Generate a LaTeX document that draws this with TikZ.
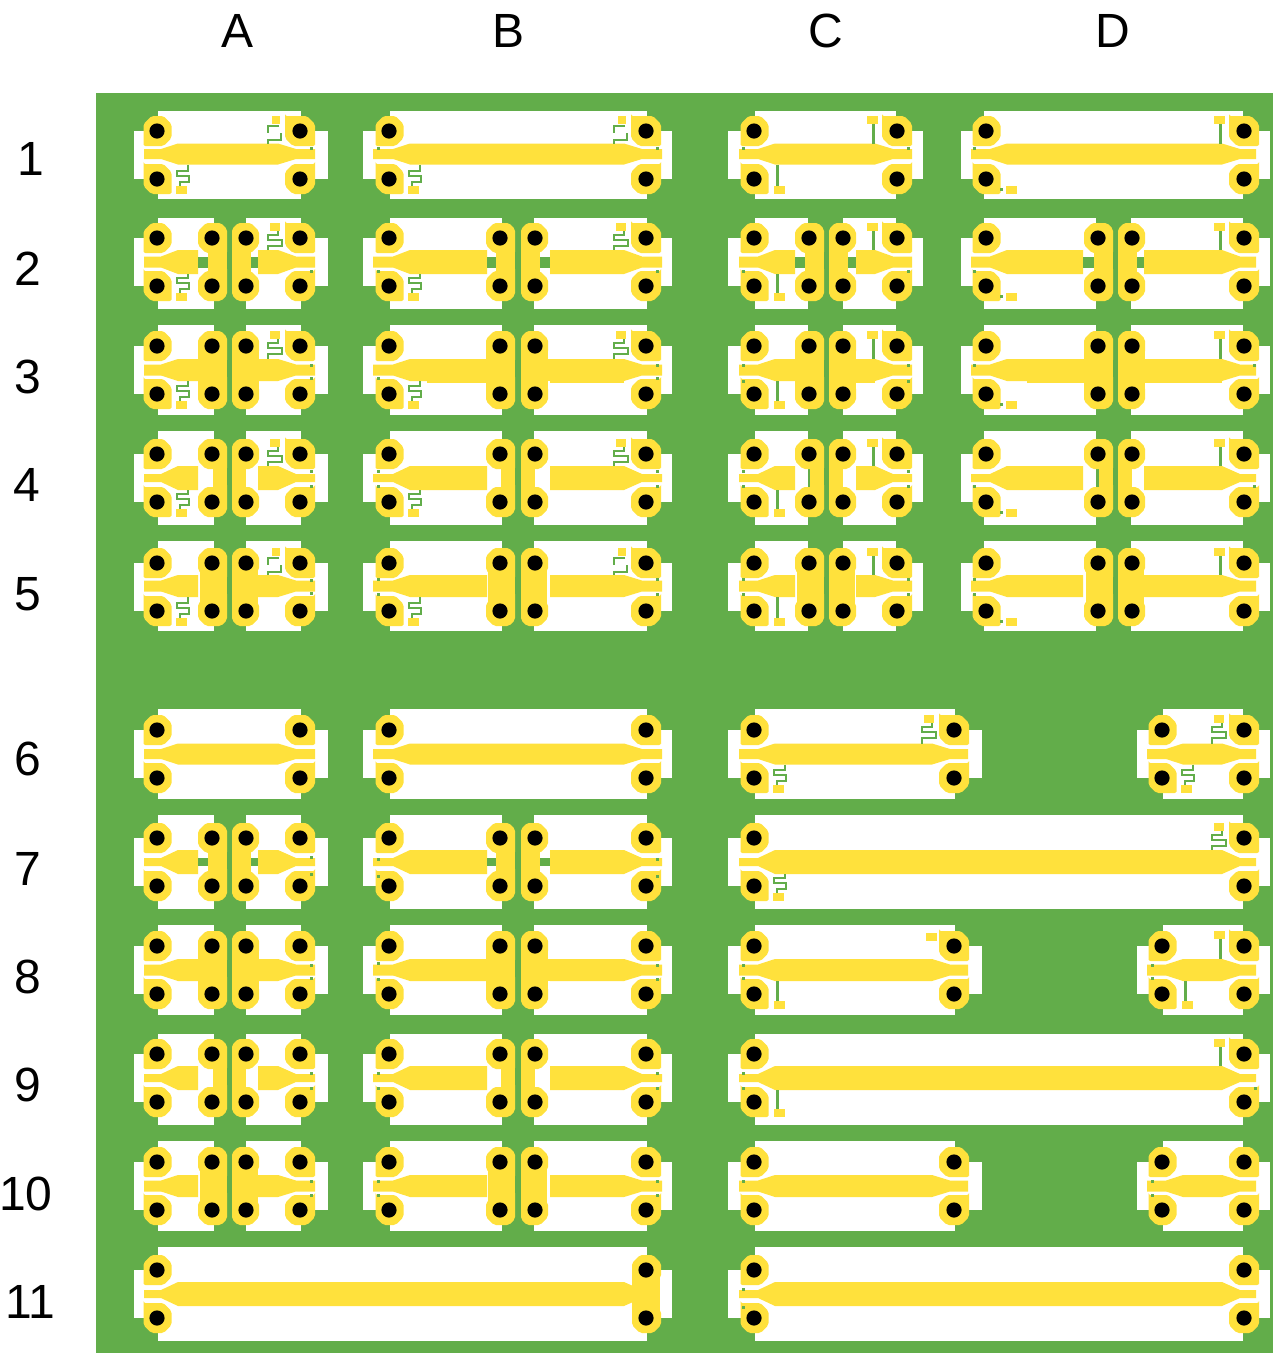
\documentclass[tikz,border=0pt]{standalone}
\usepackage{fontspec}
\setmainfont{Liberation Sans}
\definecolor{mygreen}{RGB}{98,173,74}
\definecolor{mygold}{RGB}{255,225,60}

% the data of one row: holes, trace centre, white edges, half widths, bars, corner
\newcommand{\setrow}[9]{\def\yT{#1}\def\yB{#2}\def\yc{#3}\def\wT{#4}\def\wB{#5}\def\hw{#6}\def\hn{#7}\def\wl{#8}\def\wr{#9}}
\newcommand{\loadrow}[1]{\def\brc{0}\ifcase#1\or
  \setrow{131}{179}{154}{111}{199}{10.5}{5}{0}{0}\or
  \setrow{238}{286}{262}{218}{309}{12}{5.5}{4}{5}\or
  \setrow{346}{394}{370}{325}{415}{11}{5.5}{14}{13}\or
  \setrow{454}{502}{478}{431}{525}{12}{4}{-1}{0}\or
  \setrow{563}{611}{586}{541}{631}{11}{5.5}{12}{12}\or
  \def\brc{8}\setrow{730}{778}{754}{709}{799}{10.5}{5}{0}{0}\or
  \def\brc{8}\setrow{838}{886}{862}{815}{909}{12}{4}{4}{5}\or
  \def\brc{8}\setrow{946}{994}{970}{925}{1015}{11}{5.5}{14}{13}\or
  \def\brc{8}\setrow{1054}{1102}{1078}{1034}{1125}{12}{4}{-1}{0}\or
  \def\brc{8}\setrow{1162}{1210}{1186}{1141}{1231}{11}{5.5}{12}{12}\or
  \def\brc{8}\setrow{1270}{1318}{1294}{1247}{1341}{12}{4}{0}{0}\fi}

% x, y, left and right reach, then the four cuts from the top left on
\newcommand{\pad}[8]{\fill[gold,rounded corners=2pt] (#1-#3+#5,#2-15) -- (#1+#4-#6,#2-15) -- (#1+#4,#2-15+#6) -- (#1+#4,#2+15-#7)
  -- (#1+#4-#7,#2+15) -- (#1-#3+#8,#2+15) -- (#1-#3,#2+15-#8) -- (#1-#3,#2-15+#5) -- cycle;}
\newcommand{\hole}[2]{\fill[black] (#1,#2) circle (7.6);}
\newcommand{\leftpads}[1]{%
  \pad{#1}{\yT}{13.5}{14.5}{8}{8}{8}{0}
  \pad{#1}{\yB}{13.5}{14.5}{0}{8}{\brc}{8}
  \hole{#1}{\yT}\hole{#1}{\yB}}
\newcommand{\rightpads}[1]{%
  \pad{#1}{\yT}{15}{15}{\brc}{8}{0}{8}
  \pad{#1}{\yB}{15}{15}{8}{0}{8}{8}
  \hole{#1}{\yT}\hole{#1}{\yB}}

% holes, ears, trace ends, white edges
\newcommand{\cellbody}[8]{%
  \fill[white] (#3,\yT) rectangle (#4,\yB);
  \fill[white] (#7,\wT) rectangle (#8,\wB);
  \fill[gold] (#5,\yc-\hn) -- (#1+4,\yc-\hn) -- (#1+21,\yc-\hw) -- (#2-22,\yc-\hw) -- (#2-4,\yc-\hn) -- (#6,\yc-\hn)
    -- (#6,\yc+\hn) -- (#2-4,\yc+\hn) -- (#2-22,\yc+\hw) -- (#1+21,\yc+\hw) -- (#1+4,\yc+\hn) -- (#5,\yc+\hn) -- cycle;}
\newcommand{\fullcell}[8]{\cellbody{#1}{#2}{#3}{#4}{#5}{#6}{#7}{#8}\leftpads{#1}\rightpads{#2}}

% the four stub drawings, by the hole they lean on
\newcommand{\meantop}[1]{%
  \fill[gold] (#1-30,\yT-15) rectangle (#1-20,\yT-7);
  \draw[stub] (#1-22,\yT-7) -- (#1-22,\yT-3) -- (#1-32,\yT-3) -- (#1-32,\yT+2) -- (#1-18,\yT+2) -- (#1-18,\yT+8) -- (#1-32,\yT+8) -- (#1-32,\yc-\hw);}
\newcommand{\meanbroken}[1]{%
  \fill[gold] (#1-28,\yT-15) rectangle (#1-20,\yT-7);
  \draw[stub] (#1-21,\yT-5) -- (#1-32,\yT-5) -- (#1-32,\yT+2);
  \draw[stub] (#1-19,\yT+2) -- (#1-19,\yT+9) -- (#1-32,\yT+9) -- (#1-32,\yc-\hw);}
\newcommand{\meanlow}[1]{%
  \fill[gold] (#1+19,\yB+7) rectangle (#1+30,\yB+15);
  \draw[stub] (#1+31,\yc+\hw) -- (#1+31,\yB-8) -- (#1+20,\yB-8) -- (#1+20,\yB-3) -- (#1+32,\yB-3) -- (#1+32,\yB+3) -- (#1+23,\yB+3) -- (#1+23,\yB+7);}
\newcommand{\stubtop}[1]{%
  \fill[gold] (#1-30,\yT-15) rectangle (#1-19,\yT-7);
  \draw[stub,line width=3pt] (#1-23.5,\yT-7) -- (#1-23.5,\yc-\hw);}
\newcommand{\stublow}[1]{%
  \fill[gold] (#1+20,\yB+7) rectangle (#1+31,\yB+15);
  \draw[stub,line width=3pt] (#1+23.5,\yc+\hw) -- (#1+23.5,\yB+7);}

\begin{document}
\begin{tikzpicture}[x=1pt,y=-1pt,
    gold/.style={fill=mygold},
    stub/.style={draw=mygreen,line width=2.4pt},
    dot/.style={fill=mygreen},
    heading/.style={font=\fontsize{48}{48}\selectfont,inner sep=0pt}
  ]
  \useasboundingbox (0,0) rectangle (1273,1353);
  \fill[mygreen] (96,93) rectangle (1273,1353);

  % the column and row names
  \foreach \i/\x in {A/238,B/509,C/826,D/1113}
    \node[heading] (col\i) at (\x,31) {\i};
  \foreach \i/\x/\y in {1/31/159,2/28/269,3/28/377,4/27/485,5/28/594,6/28/759,7/28/869,8/28/977,9/28/1085,10/26/1194,11/30/1302}
    \node[heading] (row\i) at (\x,\y) {\i};

  % the whole cells
  \loadrow{1}
  \fullcell{157}{300}{134}{328}{144}{315}{158}{301}
  \fullcell{389}{646}{363}{672}{373}{662}{390}{647}
  \fullcell{754}{897}{728}{923}{739}{912}{755}{896}
  \fullcell{986}{1244}{961}{1270}{971}{1256}{984}{1243}
  \loadrow{6}
  \fullcell{157}{300}{134}{328}{144}{315}{158}{301}
  \fullcell{389}{646}{363}{672}{373}{662}{390}{647}
  \def\brc{0}
  \fullcell{754}{954}{728}{982}{739}{968}{755}{955}
  \fullcell{1162}{1244}{1137}{1270}{1147}{1256}{1163}{1243}
  \loadrow{7}\def\brc{0}
  \fullcell{754}{1244}{728}{1270}{739}{1256}{755}{1243}
  \loadrow{8}\def\brc{0}
  \fullcell{754}{954}{728}{982}{739}{968}{755}{955}
  \fullcell{1162}{1244}{1137}{1270}{1147}{1256}{1163}{1243}
  \loadrow{9}\def\brc{0}
  \fullcell{754}{1244}{728}{1270}{739}{1256}{755}{1243}
  \loadrow{10}
  \fullcell{754}{954}{728}{982}{739}{968}{755}{955}
  \fullcell{1162}{1244}{1137}{1270}{1147}{1256}{1163}{1243}
  \loadrow{11}
  \cellbody{157}{646}{134}{672}{144}{646}{158}{647}
  \leftpads{157}
  \fill[gold] (632,\yT) rectangle (660,\yB);
  \pad{646}{\yT}{14}{15}{8}{8}{8}{8}
  \pad{646}{\yB}{14}{15}{8}{8}{8}{8}
  \hole{646}{\yT}\hole{646}{\yB}
  \fullcell{754}{1244}{728}{1270}{739}{1256}{755}{1243}

  % the cut cells
  \foreach \xa/\xb/\xc/\xd/\eL/\eR/\mS/\mL/\mR/\mE/\tL/\tR/\sL/\sR/\rows in {
      157/212/246/300/134/328/158/214/246/301/144/315/198/258/{2,3,4,5,7,8,9,10},
      389/500/535/646/363/672/390/502/534/647/373/662/487/550/{2,3,4,5,7,8,9,10},
      754/809/843/897/728/923/755/808/843/896/739/912/795/856/{2,3,4,5},
      986/1098/1132/1244/961/1270/984/1096/1131/1243/971/1256/1083/1144/{2,3,4,5}}{
    \foreach \r in \rows {
      \loadrow{\r}
      \fill[white] (\eL,\yT) rectangle (\mS,\yB);
      \fill[white] (\mE,\yT) rectangle (\eR,\yB);
      \fill[white] (\mS,\wT) rectangle (\mL,\wB);
      \fill[white] (\mR,\wT) rectangle (\mE,\wB);
      \fill[gold] (\tL,\yc-\hn) -- (\xa+4,\yc-\hn) -- (\xa+21,\yc-\hw) -- (\sL,\yc-\hw)
        -- (\sL,\yc+\hw) -- (\xa+21,\yc+\hw) -- (\xa+4,\yc+\hn) -- (\tL,\yc+\hn) -- cycle;
      \fill[gold] (\sR,\yc-\hw) -- (\xd-22,\yc-\hw) -- (\xd-4,\yc-\hn) -- (\tR,\yc-\hn)
        -- (\tR,\yc+\hn) -- (\xd-4,\yc+\hn) -- (\xd-22,\yc+\hw) -- (\sR,\yc+\hw) -- cycle;
      % the tabs of rows 2 and 7, the joined traces of rows 3 and 8
      \ifnum\wl=4
        \fill[mygreen] (\sL,\yc-\hn) rectangle (\xb-\wl,\yc+\hn);
        \fill[mygreen] (\xc+\wr,\yc-\hn) rectangle (\sR,\yc+\hn);
      \fi
      \ifnum\wl=14
        \fill[gold] (\sL-1,\yc-\hw) rectangle (\xb,\yc+\hw);
        \fill[gold] (\xc,\yc-\hw) rectangle (\sR+1,\yc+\hw);
      \fi
      \leftpads{\xa}\rightpads{\xd}
      \fill[gold] (\xb-\wl,\yT) rectangle (\xb+15,\yB);
      \fill[gold] (\xc-14,\yT) rectangle (\xc+\wr,\yB);
      \pad{\xb}{\yT}{14}{15}{8}{6}{0}{8}
      \pad{\xb}{\yB}{14}{15}{8}{0}{6}{8}
      \pad{\xc}{\yT}{14}{13}{6}{8}{8}{0}
      \pad{\xc}{\yB}{14}{13}{0}{8}{8}{6}
      \hole{\xb}{\yT}\hole{\xb}{\yB}\hole{\xc}{\yT}\hole{\xc}{\yB}
    }
  }
  % the bars of rows 5 and 10 that meet their trace
  \foreach \x/\y in {256/586,1142/586,256/1186}
    \fill[gold] (\x,\y-11) rectangle (\x+4,\y+11);
  % the steps in row 3
  \fill[gold] (427,370) rectangle (487,383);
  \fill[gold] (1027,370) rectangle (1085,383);
  \foreach \x/\w in {550/74,856/19,1144/78}
    \fill[gold] (\x,370) rectangle (\x+\w,383);

  % the stubs
  \foreach \r in {1,...,5}{
    \loadrow{\r}
    \foreach \hx/\lx in {300/157,646/389}{
      \ifcase\r\or\meanbroken{\hx}\or\meantop{\hx}\or\meantop{\hx}\or\meantop{\hx}\or\meanbroken{\hx}\fi
      \meanlow{\lx}
    }
    \stubtop{897}\stublow{754}
    \stubtop{1244}
    \fill[gold] (1006,\yB+7) rectangle (1017,\yB+15);
    \fill[dot] (1000,\yB+9) rectangle (1003,\yB+12);
  }
  \loadrow{6}
  \meantop{954}\meanlow{754}\meantop{1244}\meanlow{1162}
  \loadrow{7}
  \meantop{1244}\meanlow{754}
  \loadrow{8}
  \fill[gold] (926,\yT-13) rectangle (937,\yT-5);
  \stublow{754}\stubtop{1244}\stublow{1162}
  \loadrow{9}
  \stubtop{1244}\stublow{754}

  % the small marks beside the traces
  \foreach \x/\y in {310/147,310/270,310/364,310/377,310/470,310/485,310/579,310/592,
      310/856,310/873,310/964,310/977,310/1072,310/1087,310/1180,310/1194,
      377/147,656/147,377/270,656/270,377/377,656/364,656/377,377/470,377/485,656/470,656/485,
      377/578,377/593,656/578,656/593,377/858,377/875,656/858,656/875,
      377/962,377/978,656/964,656/978,377/1072,377/1087,656/1072,656/1087,377/1180,377/1194,656/1180,656/1194,
      742/147,907/147,742/270,907/270,742/364,907/364,742/380,907/380,742/470,907/470,742/485,907/485,
      742/578,907/578,742/593,907/593,
      973/147,973/270,973/364,1253/364,973/485,1253/485,973/578,973/593,
      742/964,742/977,1151/964,1151/977,742/1072,742/1087,1254/1087,742/1180,1151/1180,1151/1194,742/1288,742/1306}
    \fill[dot] (\x,\y) rectangle (\x+3,\y+3);
\end{tikzpicture}
\end{document}
